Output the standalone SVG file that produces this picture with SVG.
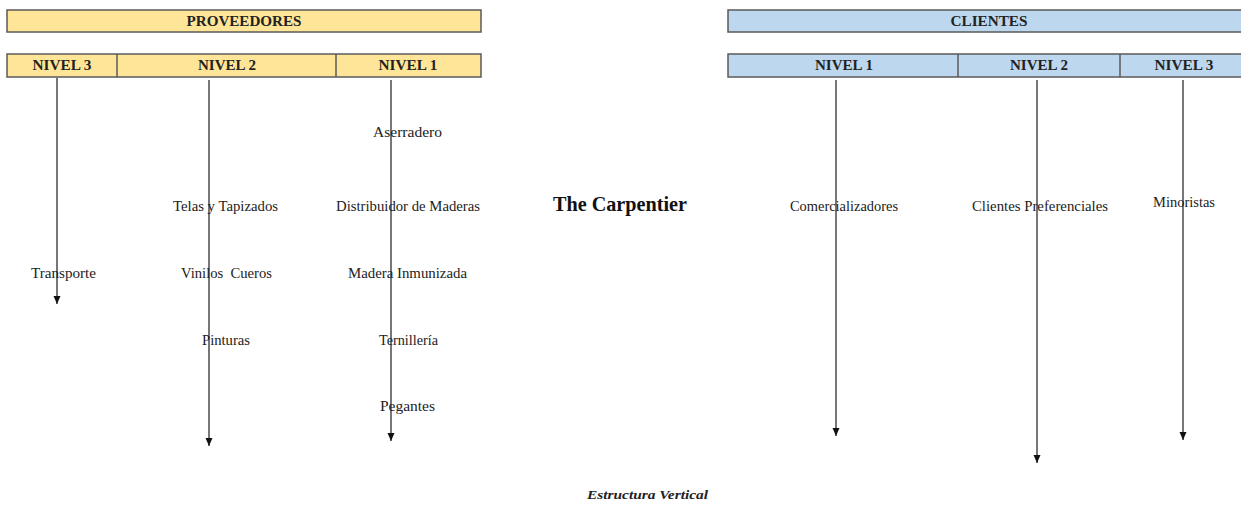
<svg xmlns="http://www.w3.org/2000/svg" width="1241" height="506" viewBox="0 0 1241 506">
  <style>
    .bar-p { fill: #FFE597; stroke: #5a5a5a; stroke-width: 1.5; }
    .bar-c { fill: #BDD7EE; stroke: #5a5a5a; stroke-width: 1.5; }
    .div { stroke: #5a5a5a; stroke-width: 1.5; }
    .hdr { font-family: "Liberation Serif", "Times New Roman", serif; font-weight: bold; font-size: 14px; fill: #222; text-anchor: middle; }
    .lbl { font-family: "Liberation Serif", "Times New Roman", serif; font-size: 14px; fill: #222; }
    .title { font-family: "Liberation Serif", "Times New Roman", serif; font-weight: bold; font-size: 22px; fill: #111; }
    .cap { font-family: "Liberation Serif", "Times New Roman", serif; font-weight: bold; font-style: italic; font-size: 12px; fill: #222; }
    .conn { stroke: #777; stroke-width: 2; fill: none; marker-end: url(#head); }
  </style>
  <defs>
    <!-- small solid arrowhead, tip at the end of the line -->
    <marker id="head" markerWidth="8" markerHeight="8" refX="8" refY="4" orient="auto" markerUnits="userSpaceOnUse" viewBox="0 0 8 8">
      <path d="M0,0.5 L8,4 L0,7.5 Z" fill="#111"/>
    </marker>
  </defs>

  <rect width="1241" height="506" fill="#fff"/>

  <!-- Suppliers header -->
  <g id="proveedores">
    <rect class="bar-p" x="7" y="10" width="474" height="22"/>
    <text class="hdr" x="244" y="26" textLength="115" lengthAdjust="spacingAndGlyphs">PROVEEDORES</text>
  </g>
  <g id="proveedores-niveles">
    <rect class="bar-p" x="7" y="54" width="474" height="23"/>
    <line class="div" x1="117" y1="54" x2="117" y2="77"/>
    <line class="div" x1="336" y1="54" x2="336" y2="77"/>
    <text class="hdr" x="62" y="70" textLength="59" lengthAdjust="spacingAndGlyphs">NIVEL 3</text>
    <text class="hdr" x="227" y="70" textLength="58" lengthAdjust="spacingAndGlyphs">NIVEL 2</text>
    <text class="hdr" x="408" y="70" textLength="59" lengthAdjust="spacingAndGlyphs">NIVEL 1</text>
  </g>

  <!-- Customers header -->
  <g id="clientes">
    <rect class="bar-c" x="728" y="10" width="520" height="22"/>
    <text class="hdr" x="989" y="26" textLength="77" lengthAdjust="spacingAndGlyphs">CLIENTES</text>
  </g>
  <g id="clientes-niveles">
    <rect class="bar-c" x="728" y="54" width="520" height="23"/>
    <line class="div" x1="958" y1="54" x2="958" y2="77"/>
    <line class="div" x1="1120" y1="54" x2="1120" y2="77"/>
    <text class="hdr" x="844" y="70" textLength="58" lengthAdjust="spacingAndGlyphs">NIVEL 1</text>
    <text class="hdr" x="1039" y="70" textLength="58" lengthAdjust="spacingAndGlyphs">NIVEL 2</text>
    <text class="hdr" x="1184" y="70" textLength="59" lengthAdjust="spacingAndGlyphs">NIVEL 3</text>
  </g>

  <!-- Level connectors -->
  <g id="connectors">
    <line class="conn" x1="57" y1="78" x2="57" y2="304"/>
    <line class="conn" x1="209" y1="80" x2="209" y2="446"/>
    <line class="conn" x1="391" y1="80" x2="391" y2="441"/>
    <line class="conn" x1="836" y1="80" x2="836" y2="436"/>
    <line class="conn" x1="1037" y1="80" x2="1037" y2="463"/>
    <line class="conn" x1="1183" y1="80" x2="1183" y2="440"/>
  </g>

  <!-- Supplier items -->
  <g id="transporte"><text class="lbl" x="31" y="278" textLength="65" lengthAdjust="spacingAndGlyphs">Transporte</text></g>
  <g id="telas"><text class="lbl" x="173" y="211" textLength="105" lengthAdjust="spacingAndGlyphs">Telas y Tapizados</text></g>
  <g id="vinilos"><text class="lbl" x="181" y="278" textLength="91" lengthAdjust="spacingAndGlyphs" xml:space="preserve">Vinilos  Cueros</text></g>
  <g id="pinturas"><text class="lbl" x="202" y="345" textLength="48" lengthAdjust="spacingAndGlyphs">Pinturas</text></g>
  <g id="aserradero"><text class="lbl" x="373" y="137" textLength="69" lengthAdjust="spacingAndGlyphs">Aserradero</text></g>
  <g id="distribuidor"><text class="lbl" x="336" y="211" textLength="144" lengthAdjust="spacingAndGlyphs">Distribuidor de Maderas</text></g>
  <g id="madera"><text class="lbl" x="348" y="278" textLength="119" lengthAdjust="spacingAndGlyphs">Madera Inmunizada</text></g>
  <g id="ternilleria"><text class="lbl" x="379" y="345" textLength="59" lengthAdjust="spacingAndGlyphs">Ternillería</text></g>
  <g id="pegantes"><text class="lbl" x="380" y="411" textLength="55" lengthAdjust="spacingAndGlyphs">Pegantes</text></g>

  <!-- Company -->
  <g id="the-carpentier"><text class="title" x="553" y="211" textLength="134" lengthAdjust="spacingAndGlyphs">The Carpentier</text></g>

  <!-- Customer items -->
  <g id="comercializadores"><text class="lbl" x="790" y="211" textLength="108" lengthAdjust="spacingAndGlyphs">Comercializadores</text></g>
  <g id="clientes-preferenciales"><text class="lbl" x="972" y="211" textLength="136" lengthAdjust="spacingAndGlyphs">Clientes Preferenciales</text></g>
  <g id="minoristas"><text class="lbl" x="1153" y="207" textLength="62" lengthAdjust="spacingAndGlyphs">Minoristas</text></g>

  <!-- Caption -->
  <g id="caption"><text class="cap" x="587" y="499" textLength="121" lengthAdjust="spacingAndGlyphs">Estructura Vertical</text></g>
</svg>
